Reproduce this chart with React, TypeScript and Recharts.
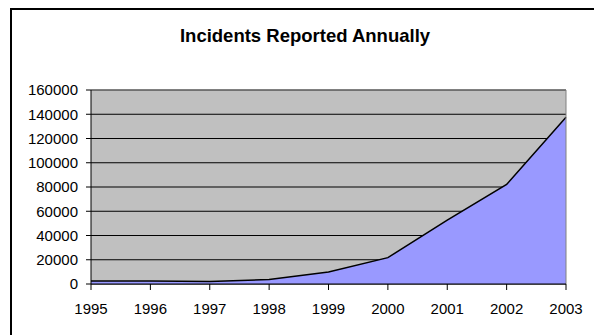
import { AreaChart, Area, XAxis, YAxis, CartesianGrid, ReferenceLine } from 'recharts';

const years = ['1995', '1996', '1997', '1998', '1999', '2000', '2001', '2002', '2003'];
const incidents = [2412, 2573, 2134, 3734, 9859, 21756, 52658, 82094, 137529];
const yTicks = [0, 20000, 40000, 60000, 80000, 100000, 120000, 140000, 160000];

const chartData = years.map((year, i) => ({ year, incidents: incidents[i] }));

const font = '"Liberation Sans", Arial, sans-serif';

const App = () => {
  return (
    <div style={{ position: 'absolute', top: 0, left: 0, width: 594, height: 335, overflow: 'hidden', background: '#fff', fontFamily: font }}>
      {/* outer chart frame, right and bottom edges run off the picture */}
      <div style={{ position: 'absolute', left: 10, top: 8, width: 700, height: 500, border: '2px solid #000' }} />
      <div
        style={{
          position: 'absolute',
          left: 0,
          width: 610,
          top: 25,
          textAlign: 'center',
          fontWeight: 'bold',
          fontSize: 18.5,
          lineHeight: '22px',
          color: '#000',
        }}
      >
        Incidents Reported Annually
      </div>
      <div style={{ position: 'absolute', left: 0, top: 0 }}>
        <AreaChart width={594} height={335} data={chartData} margin={{ top: 90, right: 28, left: 0, bottom: 0 }}>
          <CartesianGrid vertical={false} stroke="#000" fill="#C0C0C0" fillOpacity={1} />
          <XAxis
            dataKey="year"
            height={51}
            axisLine={{ stroke: '#000' }}
            tickLine={{ stroke: '#000' }}
            tickSize={6}
            tickMargin={13}
            tick={{ fill: '#000', fontSize: 15, fontFamily: font }}
            interval={0}
          />
          <YAxis
            width={91}
            domain={[0, 160000]}
            ticks={yTicks}
            axisLine={{ stroke: '#000' }}
            tickLine={{ stroke: '#000' }}
            tickSize={5}
            tickMargin={8}
            tick={{ fill: '#000', fontSize: 15, fontFamily: font }}
            interval={0}
          />
          <ReferenceLine y={160000} stroke="#808080" />
          <ReferenceLine x="2003" stroke="#808080" />
          <Area
            type="linear"
            dataKey="incidents"
            stroke="#000"
            strokeWidth={1.5}
            fill="#9999FF"
            fillOpacity={1}
            isAnimationActive={false}
          />
        </AreaChart>
      </div>
    </div>
  );
};

export default App;
